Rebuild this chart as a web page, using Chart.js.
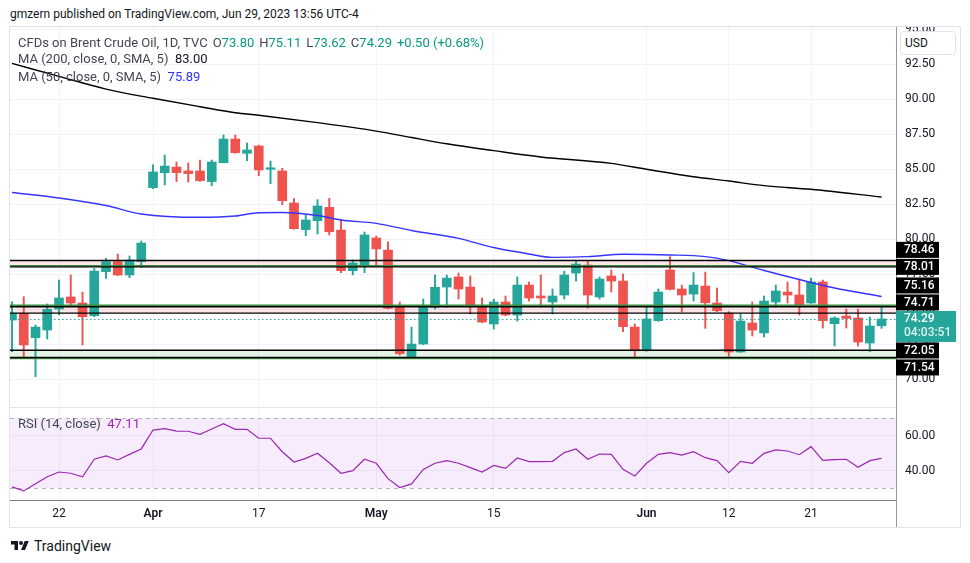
<!DOCTYPE html>
<html>
<head>
<meta charset="utf-8">
<title>CFDs on Brent Crude Oil</title>
<script src="https://cdn.jsdelivr.net/npm/chart.js@4.4.1/dist/chart.umd.min.js"></script>
<style>
  body { margin: 0; width: 970px; height: 563px; background: #fff; position: relative; overflow: hidden;
         font-family: Roboto, "Noto Sans", sans-serif; color: #131722; }
  .abs { position: absolute; }
  canvas { position: absolute; }
  #hdr { left: 10px; top: 6px; font-size: 12px; line-height: 16px; }
  #frame { left: 9px; top: 26px; width: 952px; height: 502px; border: 1px solid #e0e3eb; box-sizing: border-box; }
  #main { left: 10px; top: 27px; }
  #rsi { left: 10px; top: 408px; }
  #sep { left: 10px; top: 407px; width: 886px; height: 1px; background: #e0e3eb; }
  #vline { left: 896px; top: 27px; width: 1px; height: 500px; background: #9598a1; }
  #usd { left: 900px; top: 31px; width: 56px; height: 24px; box-sizing: border-box; border: 1px solid #e0e3eb;
         border-radius: 4px; background: #fff; font-size: 12px; line-height: 22px; padding-left: 4px; }
  .leg { left: 18px; font-size: 13px; line-height: 16px; color: #434651; white-space: nowrap; }
  .leg .v { color: #089981; }
  .leg .g { margin-left: 5px; }
  #logo { left: 10px; top: 537px; font-size: 14px; line-height: 18px; display: flex; align-items: center; }
  #logo svg { margin-right: 4px; }
</style>
</head>
<body>
<div id="hdr" class="abs">gmzern published on TradingView.com, Jun 29, 2023 13:56 UTC-4</div>
<div id="frame" class="abs"></div>
<div id="vline" class="abs"></div>
<div id="sep" class="abs"></div>
<canvas id="main" width="950" height="381"></canvas>
<canvas id="rsi" width="950" height="120"></canvas>
<div id="usd" class="abs">USD</div>
<div id="leg1" class="abs leg" style="top:35px"></div>
<div class="abs leg" style="top:51px">MA (200, close, 0, SMA, 5)&nbsp; <span id="ma200v" style="color:#131722"></span></div>
<div class="abs leg" style="top:69px">MA (50, close, 0, SMA, 5)&nbsp; <span id="ma50v" style="color:#2f2fff"></span></div>
<div class="abs leg" style="top:416px">RSI (14, close)&nbsp; <span id="rsiv" style="color:#9c27b0"></span></div>
<div id="logo" class="abs">
  <svg width="20" height="14" viewBox="0 0 36 28"><path d="M14 22H7V11H0V4h14v18zM28 22h-8l7.5-18h8L28 22z" fill="#131722"/><circle cx="20" cy="8" r="4" fill="#131722"/></svg>
  TradingView
</div>
<script>
// Mar 16 .. Jun 29 2023, one entry per daily bar
const tickIndex = [4, 12, 21, 31, 41, 54, 61, 68];
const tickLabels = ['22', 'Apr', '17', 'May', '15', 'Jun', '12', '21'];

const opens = [74.21, 74.69, 72.95, 73.50, 75.00, 75.86, 75.43, 74.52, 77.67, 78.38,
  77.43, 78.38, 83.67, 84.74, 85.14, 84.86, 84.86, 84.10, 85.45, 87.14,
  86.12, 86.64, 84.98, 84.86, 82.57, 80.67, 81.31, 82.26, 80.64, 77.74,
  78.07, 80.07, 79.21, 75.26, 71.60, 72.50, 75.12, 76.57, 77.29, 76.57,
  75.26, 73.93, 75.50, 74.57, 76.71, 75.93, 75.50, 76.00, 77.57, 78.14,
  75.86, 77.36, 77.00, 73.71, 72.02, 74.17, 77.79, 76.43, 76.07, 76.64,
  75.43, 74.71, 71.93, 74.00, 73.29, 75.50, 76.21, 76.00, 75.43, 76.93,
  73.95, 74.50, 74.36, 72.57, 73.80];
const highs = [75.52, 75.88, 73.86, 75.36, 77.07, 77.43, 76.21, 77.90, 78.62, 78.93,
  78.79, 79.86, 85.29, 86.00, 85.50, 85.43, 85.64, 85.64, 87.43, 87.43,
  86.86, 86.71, 85.57, 85.05, 82.88, 81.76, 82.81, 82.90, 81.40, 78.50,
  80.50, 80.21, 79.79, 75.50, 73.71, 75.71, 77.43, 77.43, 77.57, 77.36,
  75.79, 75.71, 75.93, 77.29, 76.93, 77.43, 76.43, 77.71, 78.43, 78.43,
  77.29, 77.79, 77.50, 73.93, 75.21, 76.43, 78.74, 76.71, 77.60, 77.64,
  76.50, 74.81, 74.64, 75.50, 75.93, 76.71, 76.93, 77.14, 77.21, 77.07,
  74.45, 75.00, 75.00, 74.43, 75.11];
const lows = [71.95, 71.48, 70.17, 72.86, 74.57, 75.29, 72.43, 74.45, 77.19, 77.38,
  77.24, 77.98, 83.59, 83.86, 84.10, 84.07, 84.12, 83.81, 85.45, 86.12,
  85.60, 84.52, 83.95, 82.45, 80.70, 80.24, 80.36, 80.29, 77.60, 77.43,
  77.60, 78.14, 75.00, 71.71, 71.48, 72.45, 75.00, 75.12, 75.71, 74.64,
  74.02, 73.57, 74.52, 74.14, 75.57, 75.14, 74.64, 75.71, 77.00, 75.07,
  75.71, 76.21, 73.38, 71.60, 71.98, 74.12, 76.36, 74.81, 75.57, 73.62,
  74.81, 71.64, 71.90, 73.07, 73.00, 75.14, 75.43, 74.57, 75.40, 73.64,
  72.36, 73.64, 72.36, 71.95, 73.62];
const closes = [74.69, 72.43, 73.71, 74.98, 75.79, 75.43, 74.45, 77.71, 78.38, 77.43,
  78.50, 79.71, 84.79, 85.21, 84.74, 84.67, 84.17, 85.50, 87.14, 86.17,
  86.36, 84.93, 85.02, 82.74, 80.74, 81.36, 82.36, 80.52, 77.74, 78.29,
  80.29, 79.29, 75.05, 71.81, 72.50, 75.26, 76.55, 77.21, 76.43, 75.26,
  74.07, 75.50, 74.57, 76.71, 75.79, 75.79, 75.93, 77.43, 78.21, 76.00,
  77.14, 77.00, 73.74, 72.02, 74.29, 76.21, 76.40, 76.00, 76.71, 75.45,
  74.88, 71.93, 74.14, 73.50, 75.57, 76.29, 76.00, 75.29, 76.93, 74.17,
  74.36, 74.33, 72.64, 73.79, 74.29];

const ma200Index = [0, 4, 8, 12, 16, 19, 21, 26, 31, 34, 37, 41, 45, 51, 54, 58, 61, 64, 68, 74];
const ma200 = [92.54, 91.62, 90.71, 90.05, 89.45, 89.02, 88.84, 88.31, 87.71, 87.25,
  86.80, 86.31, 85.86, 85.40, 84.98, 84.45, 84.14, 83.81, 83.55, 83.00];
const ma50Index = [0, 4, 8, 11, 16, 19, 21, 23, 26, 28, 31, 34, 38, 41, 44, 46, 49, 52, 56, 59, 61, 64, 67, 70, 74];
const ma50 = [83.32, 82.93, 82.39, 81.79, 81.55, 81.64, 81.88, 81.89, 81.68, 81.36,
  81.12, 80.61, 80.05, 79.39, 78.93, 78.69, 78.74, 78.91, 78.86, 78.74,
  78.46, 77.75, 77.11, 76.50, 75.89];

const rsi = [30.8, 28.5, 32.6, 36.6, 39.3, 38.6, 36.5, 46.6, 48.5, 46.2,
  49.4, 52.5, 63.3, 64.1, 62.7, 62.6, 60.8, 63.9, 66.9, 63.7,
  63.7, 58.6, 58.6, 50.9, 45.0, 47.1, 50.0, 44.6, 38.6, 40.1,
  46.6, 44.3, 35.5, 30.4, 32.5, 40.8, 44.3, 45.8, 44.3, 41.8,
  39.3, 43.1, 41.4, 47.3, 45.2, 45.2, 45.4, 50.4, 52.5, 46.6,
  49.6, 49.4, 40.8, 37.0, 44.3, 49.4, 50.4, 49.0, 50.9, 47.5,
  45.8, 38.9, 45.4, 44.3, 50.0, 51.9, 51.3, 49.2, 53.8, 46.0,
  46.4, 46.6, 42.0, 45.8, 47.11];

const levels = [78.46, 78.01, 75.16, 74.71, 72.05, 71.54];
const bandPairs = [[78.46, 78.01], [75.16, 74.71], [72.05, 71.54]];
const priceTicks = [95, 92.5, 90, 87.5, 85, 82.5, 80, 77.5, 75, 72.5, 70];
const rsiTicks = [40, 60];
const lastPrice = 74.29;
const countdown = '04:03:51';

const up = '#26a69a', down = '#ef5350';
const gridColor = '#f0f3fa';
const xMin = -0.17, xMax = 75.23;

Chart.defaults.font.family = 'Roboto, "Noto Sans", sans-serif';
Chart.defaults.font.size = 12;
Chart.defaults.color = '#131722';
Chart.defaults.animation = false;

const last = opens.length - 1;
const chg = closes[last] - closes[last - 1];
document.getElementById('leg1').innerHTML = 'CFDs on Brent Crude Oil, 1D, TVC' +
  '<span class="g">O<span class="v">' + opens[last].toFixed(2) + '</span></span>' +
  '<span class="g">H<span class="v">' + highs[last].toFixed(2) + '</span></span>' +
  '<span class="g">L<span class="v">' + lows[last].toFixed(2) + '</span></span>' +
  '<span class="g">C<span class="v">' + closes[last].toFixed(2) + '</span></span>' +
  '<span class="g v">+' + chg.toFixed(2) + ' (+' + (chg / closes[last - 1] * 100).toFixed(2) + '%)</span>';
document.getElementById('ma200v').textContent = ma200[ma200.length - 1].toFixed(2);
document.getElementById('ma50v').textContent = ma50[ma50.length - 1].toFixed(2);
document.getElementById('rsiv').textContent = rsi[rsi.length - 1].toFixed(2);

const candleColor = c => closes[c.dataIndex] >= opens[c.dataIndex] ? up : down;

function noPad(s) {
  s.paddingTop = 0; s.paddingBottom = 0; s.paddingLeft = 0; s.paddingRight = 0;
}

// horizontal levels, bands, price line and right-hand labels
const levelsPlugin = {
  id: 'levels',
  beforeDatasetsDraw(chart) {
    const { ctx, chartArea: a, scales: { y } } = chart;
    const fills = ['rgba(242,54,69,0.12)', 'rgba(242,54,69,0.12)', 'rgba(76,175,80,0.15)'];
    ctx.save();
    bandPairs.forEach((b, k) => {
      const y1 = y.getPixelForValue(b[0]), y2 = y.getPixelForValue(b[1]);
      ctx.fillStyle = fills[k];
      ctx.fillRect(a.left, y1, a.right - a.left, y2 - y1);
    });
    ctx.restore();
  },
  afterDatasetsDraw(chart) {
    const { ctx, chartArea: a, scales: { y } } = chart;
    ctx.save();
    // green edges of the zones
    ctx.strokeStyle = '#388e3c';
    ctx.lineWidth = 1.5;
    [[levels[1], -1.2], [levels[2], -1.5], [levels[5], 1]].forEach(g => {
      const py = y.getPixelForValue(g[0]) + g[1];
      ctx.beginPath(); ctx.moveTo(a.left, py); ctx.lineTo(a.right, py); ctx.stroke();
    });
    ctx.strokeStyle = '#000';
    ctx.lineWidth = 1.4;
    levels.forEach(v => {
      const py = y.getPixelForValue(v);
      ctx.beginPath(); ctx.moveTo(a.left, py); ctx.lineTo(a.right, py); ctx.stroke();
    });
    // last price line
    const lp = Math.round(y.getPixelForValue(lastPrice)) + 0.5;
    ctx.strokeStyle = up;
    ctx.lineWidth = 1;
    ctx.setLineDash([1.5, 2.5]);
    ctx.beginPath(); ctx.moveTo(a.left, lp); ctx.lineTo(a.right, lp); ctx.stroke();
    ctx.restore();
  },
  afterDraw(chart) {
    const { ctx, chartArea: a, scales: { y } } = chart;
    const h = 16, step = 17, w = 43;
    const lp = y.getPixelForValue(lastPrice);
    const tTop = lp - 8, tBot = tTop + 31;
    ctx.save();
    ctx.font = '500 12px Roboto, "Noto Sans", sans-serif';
    ctx.textBaseline = 'middle';
    const box = (c, v) => {
      ctx.fillStyle = '#000';
      ctx.fillRect(a.right, c - h / 2, w, h);
      ctx.fillStyle = '#fff';
      ctx.fillText(v.toFixed(2), a.right + 8, c + 0.5);
    };
    let lim = tTop;
    levels.filter(v => v > lastPrice).sort((p, q) => p - q).forEach(v => {
      const c = Math.min(y.getPixelForValue(v), lim - step / 2);
      box(c, v);
      lim = c - step / 2;
    });
    lim = tBot;
    levels.filter(v => v < lastPrice).sort((p, q) => q - p).forEach(v => {
      const c = Math.max(y.getPixelForValue(v), lim + step / 2);
      box(c, v);
      lim = c + step / 2;
    });
    ctx.fillStyle = up;
    ctx.fillRect(a.right, tTop, 60, 31);
    ctx.fillStyle = '#fff';
    ctx.fillText(lastPrice.toFixed(2), a.right + 8, lp + 0.5);
    ctx.fillStyle = 'rgba(255,255,255,0.85)';
    ctx.fillText(countdown, a.right + 8, lp + 14.5);
    ctx.restore();
  }
};

new Chart(document.getElementById('main'), {
  type: 'bar',
  data: {
    datasets: [
      {
        type: 'line', label: 'MA 200', order: 0,
        data: ma200Index.map((x, i) => ({ x: x, y: ma200[i] })),
        borderColor: '#000', borderWidth: 1.4, pointRadius: 0, cubicInterpolationMode: 'monotone'
      },
      {
        type: 'line', label: 'MA 50', order: 0,
        data: ma50Index.map((x, i) => ({ x: x, y: ma50[i] })),
        borderColor: '#3535ff', borderWidth: 1.4, pointRadius: 0, cubicInterpolationMode: 'monotone'
      },
      {
        label: 'wick', order: 2, grouped: false,
        data: opens.map((o, i) => ({ x: i, y: [lows[i], highs[i]] })),
        backgroundColor: candleColor, barThickness: 1.3, borderWidth: 0
      },
      {
        label: 'body', order: 1, grouped: false,
        data: opens.map((o, i) => ({ x: i, y: [o, closes[i]] })),
        backgroundColor: candleColor, barThickness: 9, borderWidth: 0, minBarLength: 1.5
      }
    ]
  },
  options: {
    responsive: false,
    devicePixelRatio: 1,
    layout: { padding: 0 },
    plugins: { legend: { display: false }, tooltip: { enabled: false } },
    scales: {
      x: {
        type: 'linear', min: xMin, max: xMax, offset: false,
        afterBuildTicks: s => { s.ticks = tickIndex.map(v => ({ value: v })); },
        afterFit: s => { s.height = 0; noPad(s); },
        grid: { color: gridColor, drawTicks: false, offset: false },
        border: { display: false },
        ticks: { display: false }
      },
      y: {
        position: 'right', min: 67.93, max: 95.143,
        afterBuildTicks: s => { s.ticks = priceTicks.map(v => ({ value: v })); },
        afterFit: s => { s.width = 64; noPad(s); },
        grid: { color: gridColor, drawTicks: false },
        border: { color: '#9598a1' },
        ticks: { padding: 9, color: '#131722', callback: v => v.toFixed(2) }
      }
    }
  },
  plugins: [levelsPlugin]
});

const rsiZone = {
  id: 'rsiZone',
  beforeDatasetsDraw(chart) {
    const { ctx, chartArea: a, scales: { y } } = chart;
    const y70 = y.getPixelForValue(70), y30 = y.getPixelForValue(30);
    ctx.save();
    ctx.fillStyle = 'rgba(165, 70, 230, 0.1)';
    ctx.fillRect(a.left, y70, a.right - a.left, y30 - y70);
    ctx.strokeStyle = '#b2b5be';
    ctx.lineWidth = 1;
    ctx.setLineDash([4, 4]);
    [y70, y30].forEach(py => {
      ctx.beginPath(); ctx.moveTo(a.left, Math.round(py) + 0.5); ctx.lineTo(a.right, Math.round(py) + 0.5); ctx.stroke();
    });
    ctx.restore();
  }
};

new Chart(document.getElementById('rsi'), {
  type: 'line',
  data: {
    datasets: [{
      label: 'RSI',
      data: rsi.map((v, i) => ({ x: i, y: v })),
      borderColor: '#9c27b0', borderWidth: 1.2, pointRadius: 0, tension: 0
    }]
  },
  options: {
    responsive: false,
    devicePixelRatio: 1,
    layout: { padding: 0 },
    plugins: { legend: { display: false }, tooltip: { enabled: false } },
    scales: {
      x: {
        type: 'linear', min: xMin, max: xMax, offset: false,
        afterBuildTicks: s => { s.ticks = tickIndex.map(v => ({ value: v })); },
        afterFit: s => { s.height = 28; noPad(s); },
        grid: { color: gridColor, drawTicks: false },
        border: { color: '#787b86' },
        ticks: {
          padding: 7, maxRotation: 0, autoSkip: false, color: '#131722',
          callback: v => tickLabels[tickIndex.indexOf(v)],
          font: c => {
            const lab = c.tick ? tickLabels[tickIndex.indexOf(c.tick.value)] : '';
            return { size: 12, weight: /[A-Z]/.test(lab || '') ? '600' : 'normal' };
          }
        }
      },
      y: {
        position: 'right', min: 23.3, max: 75.9,
        afterBuildTicks: s => { s.ticks = rsiTicks.map(v => ({ value: v })); },
        afterFit: s => { s.width = 64; noPad(s); },
        grid: { color: gridColor, drawTicks: false },
        border: { color: '#9598a1' },
        ticks: { padding: 9, color: '#131722', callback: v => v.toFixed(2) }
      }
    }
  },
  plugins: [rsiZone]
});
</script>
</body>
</html>
